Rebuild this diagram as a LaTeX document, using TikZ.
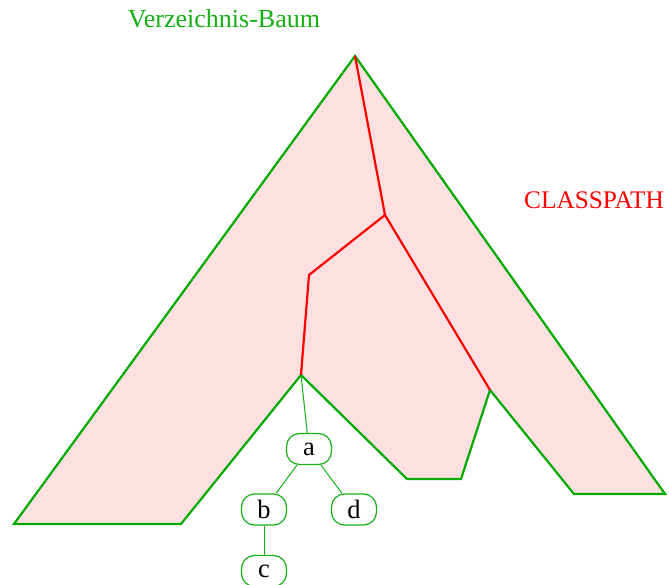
\documentclass[tikz,border=0pt]{standalone}
\usepackage{fontspec}
\setmainfont{Liberation Serif}
\definecolor{treegreen}{RGB}{0,170,0}
\definecolor{nodegreen}{RGB}{20,175,20}
\definecolor{treefill}{RGB}{255,224,224}
\definecolor{pathred}{RGB}{255,0,0}
\begin{document}
\begin{tikzpicture}[x=1pt,y=-1pt,
  treenode/.style={draw=nodegreen, line width=1.2pt, rounded corners=13pt,
    minimum width=45pt, minimum height=31pt, inner sep=0pt,
    font=\fontsize{26.5}{28}\selectfont},
  edge/.style={draw=nodegreen, line width=1pt},
  outline/.style={draw=treegreen, line width=2.2pt, fill=treefill, line join=miter},
  redpath/.style={draw=pathred, line width=2.2pt, line join=miter}]
\useasboundingbox (0,0) rectangle (669,585);
\coordinate (top) at (355,56);
\coordinate (bl) at (14,524);
\coordinate (br) at (181,524);
\coordinate (root) at (301,375);
\coordinate (m1) at (407,479);
\coordinate (m2) at (461,479);
\coordinate (rb) at (490,390);
\coordinate (r1) at (574,494);
\coordinate (r2) at (665,494);
\coordinate (j1) at (385,215);
\coordinate (j2) at (309,275);
\draw[outline] (top) -- (bl) -- (br) -- (root) -- (m1) -- (m2) -- (rb) -- (r1) -- (r2) -- cycle;
\draw[redpath] (top) -- (j1) -- (j2) -- (root);
\draw[redpath] (j1) -- (rb);
\node[treenode] (a) at (309,449) {a};
\node[treenode] (b) at (264,509.5) {b};
\node[treenode] (d) at (354,509.5) {d};
\node[treenode] (c) at (264,571) {c};
\draw[edge] (root) -- (a);
\draw[edge] (a) -- (b);
\draw[edge] (a) -- (d);
\draw[edge] (b) -- (c);
\node[anchor=base, text=nodegreen, font=\fontsize{26}{30}\selectfont] (title) at (224,28) {Verzeichnis-Baum};
\node[anchor=base, text=pathred, font=\fontsize{25.3}{30}\selectfont] (cp) at (594,208.5) {CLASSPATH};
\end{tikzpicture}
\end{document}
